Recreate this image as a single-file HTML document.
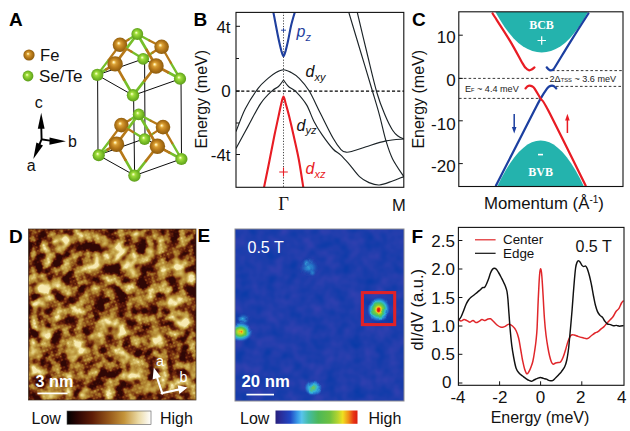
<!DOCTYPE html>
<html lang="en">
<head>
<meta charset="utf-8">
<title>FeSe/Te figure</title>
<style>
  html, body { margin: 0; padding: 0; background: #ffffff; }
  body { width: 630px; height: 431px; overflow: hidden; }
  svg { display: block; }
  text { font-family: "Liberation Sans", sans-serif; fill: #111; }
  .lbl { font-weight: bold; font-size: 19px; fill: #000; }
  .tk { font-size: 17px; }
  .ax { font-size: 16px; }
  .it { font-style: italic; }
  .serif { font-family: "Liberation Serif", serif; }
</style>
</head>
<body>
<svg width="630" height="431" viewBox="0 0 630 431">
  <defs>
    <radialGradient id="gFe" cx="0.5" cy="0.5" r="0.56" fx="0.40" fy="0.38">
      <stop offset="0" stop-color="#fffbe8"/>
      <stop offset="0.07" stop-color="#ffeeb0"/>
      <stop offset="0.15" stop-color="#f2cc6c"/>
      <stop offset="0.26" stop-color="#d89e34"/>
      <stop offset="0.55" stop-color="#b87a1a"/>
      <stop offset="0.85" stop-color="#94600e"/>
      <stop offset="1" stop-color="#7a4c0a"/>
    </radialGradient>
    <radialGradient id="gSe" cx="0.5" cy="0.5" r="0.56" fx="0.40" fy="0.38">
      <stop offset="0" stop-color="#fcfff0"/>
      <stop offset="0.07" stop-color="#ecffb4"/>
      <stop offset="0.15" stop-color="#ccf078"/>
      <stop offset="0.28" stop-color="#a0dc3c"/>
      <stop offset="0.58" stop-color="#7cc028"/>
      <stop offset="0.85" stop-color="#62a41c"/>
      <stop offset="1" stop-color="#4e8a14"/>
    </radialGradient>
    <filter id="blurD" x="-5%" y="-5%" width="110%" height="110%"><feGaussianBlur stdDeviation="2.4"/></filter>
    <filter id="stm" x="0" y="0" width="100%" height="100%" filterUnits="objectBoundingBox" color-interpolation-filters="sRGB">
      <feTurbulence type="fractalNoise" baseFrequency="0.095 0.095" numOctaves="2" seed="4" result="noise"/>
      <feColorMatrix in="noise" type="matrix" values="1 0 0 0 0  1 0 0 0 0  1 0 0 0 0  0 0 0 0 1" result="ng"/>
      <feComposite in="SourceGraphic" in2="ng" operator="arithmetic" k1="0" k2="0.9" k3="1.9" k4="-0.985" result="mix"/>
      <feComponentTransfer in="mix">
        <feFuncR type="table" tableValues="0.19 0.31 0.47 0.61 0.71 0.78 0.87 0.97"/>
        <feFuncG type="table" tableValues="0.03 0.07 0.19 0.40 0.545 0.655 0.78 0.92"/>
        <feFuncB type="table" tableValues="0.02 0.03 0.06 0.13 0.21 0.30 0.46 0.70"/>
      </feComponentTransfer>
    </filter>
    <pattern id="lat" width="3.6" height="3.6" patternUnits="userSpaceOnUse" patternTransform="rotate(-18)">
      <circle cx="1.7" cy="1.7" r="1.0" fill="#ffffff" fill-opacity="0.22"/>
    </pattern>
    <linearGradient id="cbD" x1="0" y1="0" x2="1" y2="0">
      <stop offset="0" stop-color="#000000"/>
      <stop offset="0.12" stop-color="#2a0503"/>
      <stop offset="0.3" stop-color="#5e1c06"/>
      <stop offset="0.5" stop-color="#96581a"/>
      <stop offset="0.68" stop-color="#c4943a"/>
      <stop offset="0.85" stop-color="#ead9a4"/>
      <stop offset="1" stop-color="#ffffff"/>
    </linearGradient>
    <clipPath id="clipD"><rect x="28.5" y="229" width="167.5" height="171"/></clipPath>
    <radialGradient id="vHot">
      <stop offset="0" stop-color="#d81410"/>
      <stop offset="0.10" stop-color="#e62c10"/>
      <stop offset="0.20" stop-color="#f2d420"/>
      <stop offset="0.34" stop-color="#7ccc38"/>
      <stop offset="0.50" stop-color="#40c070"/>
      <stop offset="0.64" stop-color="#30b8d8"/>
      <stop offset="0.80" stop-color="#2474d0" stop-opacity="0.85"/>
      <stop offset="1" stop-color="#1e3ca6" stop-opacity="0"/>
    </radialGradient>
    <radialGradient id="vWarm">
      <stop offset="0" stop-color="#e85a14"/>
      <stop offset="0.10" stop-color="#f0c81c"/>
      <stop offset="0.24" stop-color="#a8d630"/>
      <stop offset="0.40" stop-color="#58c448"/>
      <stop offset="0.56" stop-color="#34bcc0"/>
      <stop offset="0.72" stop-color="#2c90dc" stop-opacity="0.9"/>
      <stop offset="1" stop-color="#1e3ca6" stop-opacity="0"/>
    </radialGradient>
    <radialGradient id="vMid">
      <stop offset="0" stop-color="#74c450"/>
      <stop offset="0.22" stop-color="#50c08c"/>
      <stop offset="0.45" stop-color="#34b4dc"/>
      <stop offset="0.72" stop-color="#2880d4" stop-opacity="0.8"/>
      <stop offset="1" stop-color="#1e3ca6" stop-opacity="0"/>
    </radialGradient>
    <radialGradient id="vCold">
      <stop offset="0" stop-color="#3cc0e4" stop-opacity="0.95"/>
      <stop offset="0.4" stop-color="#2c94d8" stop-opacity="0.75"/>
      <stop offset="1" stop-color="#1e3ca6" stop-opacity="0"/>
    </radialGradient>
    <filter id="wob" x="-20%" y="-20%" width="140%" height="140%">
      <feTurbulence type="fractalNoise" baseFrequency="0.13" numOctaves="1" seed="8" result="t"/>
      <feDisplacementMap in="SourceGraphic" in2="t" scale="3.5" xChannelSelector="R" yChannelSelector="G"/>
    </filter>
    <linearGradient id="cbE" x1="0" y1="0" x2="1" y2="0">
      <stop offset="0" stop-color="#26207c"/>
      <stop offset="0.06" stop-color="#2a2c98"/>
      <stop offset="0.18" stop-color="#2048c4"/>
      <stop offset="0.27" stop-color="#3a9ce8"/>
      <stop offset="0.32" stop-color="#58c4ec"/>
      <stop offset="0.40" stop-color="#44bca8"/>
      <stop offset="0.52" stop-color="#4cb858"/>
      <stop offset="0.66" stop-color="#6cc040"/>
      <stop offset="0.76" stop-color="#b4d430"/>
      <stop offset="0.82" stop-color="#f0e020"/>
      <stop offset="0.89" stop-color="#f09018"/>
      <stop offset="0.95" stop-color="#e83814"/>
      <stop offset="1" stop-color="#d81c10"/>
    </linearGradient>
    <filter id="eNoise" x="0" y="0" width="100%" height="100%" color-interpolation-filters="sRGB">
      <feTurbulence type="fractalNoise" baseFrequency="0.08" numOctaves="2" seed="5" result="n"/>
      <feColorMatrix in="n" type="matrix" values="0.22 0 0 0 0.01  0.03 0 0 0 0.225  0.04 0 0 0 0.655  0 0 0 0 1"/>
    </filter>
    <clipPath id="clipE"><rect x="235" y="229" width="169" height="172"/></clipPath>
    <clipPath id="clipB"><rect x="236" y="12.5" width="168" height="174.5"/></clipPath>
    <clipPath id="clipC"><rect x="459" y="12" width="164" height="174.5"/></clipPath>
    <clipPath id="clipF"><rect x="458.4" y="227.4" width="165.6" height="157.9"/></clipPath>
  </defs>

  <rect x="0" y="0" width="630" height="431" fill="#ffffff"/>

  <!-- ================= PANEL A ================= -->
  <g id="panelA">
    <text class="lbl" x="9" y="26">A</text>
    <circle cx="29" cy="55" r="5.6" fill="url(#gFe)"/>
    <text class="ax" x="40" y="61" style="font-size:16.6px">Fe</text>
    <circle cx="28" cy="76" r="5.4" fill="url(#gSe)"/>
    <text class="ax" x="39" y="82.2" style="font-size:17px">Se/Te</text>

    <!-- axes triad -->
    <g fill="#000" stroke="none">
      <text class="ax" x="34.8" y="108">c</text>
      <text class="ax" x="26.8" y="170.6">a</text>
      <text class="ax" x="68" y="147.4">b</text>
      <path d="M41.2 112.8 L37.8 128.8 L44.6 128.8 Z"/>
      <path d="M65.9 141.2 L49.6 137.4 L49.4 144.8 Z"/>
      <path d="M33.3 159 L36.4 142.4 L43 145.4 Z"/>
      <path d="M41.3 128 L41.6 139.6 M40.9 139.2 L50 140.6 M41.9 138.6 L39.4 144.6" stroke="#000" stroke-width="1.9" fill="none"/>
    </g>

    <!-- unit cell lines -->
    <g stroke="#0c0c0c" stroke-width="1" fill="none">
      <path d="M97.3 75 L143.5 58.8 L180.5 78.7 L133.2 95.4 Z"/>
      <path d="M98.3 155.1 L145 138.5 L181.5 158.9 L134.8 175.5 Z"/>
      <path d="M97.6 75 L98 155"/>
      <path d="M133.6 95.4 L134.6 175.5"/>
      <path d="M144.6 58.8 L145 138.5"/>
      <path d="M181 78.7 L181.5 158.9"/>
    </g>
    <g id="layer" stroke-linecap="round">
      <path d="M143.2 58.8 L131.6 51.8" stroke="#76be2a" stroke-width="2.3"/><path d="M131.6 51.8 L120.0 44.8" stroke="#b67818" stroke-width="2.3"/>
      <path d="M143.2 58.8 L152.4 52.8" stroke="#76be2a" stroke-width="2.3"/><path d="M152.4 52.8 L161.6 46.8" stroke="#b67818" stroke-width="2.3"/>
      <path d="M137.3 34.0 L128.7 39.4" stroke="#76be2a" stroke-width="2.3"/><path d="M128.7 39.4 L120.0 44.8" stroke="#b67818" stroke-width="2.3"/>
      <path d="M137.3 34.0 L149.4 40.4" stroke="#76be2a" stroke-width="2.3"/><path d="M149.4 40.4 L161.6 46.8" stroke="#b67818" stroke-width="2.3"/>
      <path d="M97.3 74.9 L108.7 59.9" stroke="#76be2a" stroke-width="2.3"/><path d="M108.7 59.9 L120.0 44.8" stroke="#b67818" stroke-width="2.3"/>
      <path d="M180.0 78.7 L170.8 62.8" stroke="#76be2a" stroke-width="2.3"/><path d="M170.8 62.8 L161.6 46.8" stroke="#b67818" stroke-width="2.3"/>
      <circle cx="143.2" cy="58.8" r="5.9" fill="url(#gSe)"/>
      <circle cx="120.0" cy="44.8" r="7.3" fill="url(#gFe)"/>
      <circle cx="161.6" cy="46.8" r="7.3" fill="url(#gFe)"/>
      <path d="M137.3 34.0 L126.2 49.0" stroke="#76be2a" stroke-width="2.7"/><path d="M126.2 49.0 L115.1 63.9" stroke="#b67818" stroke-width="2.7"/>
      <path d="M137.3 34.0 L146.7 50.0" stroke="#76be2a" stroke-width="2.7"/><path d="M146.7 50.0 L156.0 66.0" stroke="#b67818" stroke-width="2.7"/>
      <path d="M97.3 74.9 L106.2 69.4" stroke="#76be2a" stroke-width="2.7"/><path d="M106.2 69.4 L115.1 63.9" stroke="#b67818" stroke-width="2.7"/>
      <path d="M180.0 78.7 L168.0 72.3" stroke="#76be2a" stroke-width="2.7"/><path d="M168.0 72.3 L156.0 66.0" stroke="#b67818" stroke-width="2.7"/>
      <path d="M133.0 95.3 L124.0 79.6" stroke="#76be2a" stroke-width="2.7"/><path d="M124.0 79.6 L115.1 63.9" stroke="#b67818" stroke-width="2.7"/>
      <path d="M133.0 95.3 L144.5 80.7" stroke="#76be2a" stroke-width="2.7"/><path d="M144.5 80.7 L156.0 66.0" stroke="#b67818" stroke-width="2.7"/>
      <circle cx="137.3" cy="34.0" r="5.9" fill="url(#gSe)"/>
      <circle cx="97.3" cy="74.9" r="6.1" fill="url(#gSe)"/>
      <circle cx="180.0" cy="78.7" r="6.1" fill="url(#gSe)"/>
      <circle cx="115.1" cy="63.9" r="7.7" fill="url(#gFe)"/>
      <circle cx="156.0" cy="66.0" r="7.7" fill="url(#gFe)"/>
      <circle cx="133.0" cy="95.3" r="6.2" fill="url(#gSe)"/>
    </g>
    <use href="#layer" transform="translate(1.4 80.3)"/>
  </g>

  <!-- ================= PANEL B ================= -->
  <g id="panelB">
    <text class="lbl" x="193.5" y="26">B</text>
    <text class="ax" transform="translate(207 148.6) rotate(-90)">Energy (meV)</text>
    <text class="tk" x="230.6" y="32.6" text-anchor="end">4t</text>
    <text class="tk" x="230.6" y="97.4" text-anchor="end">0</text>
    <text class="tk" x="230.6" y="160.8" text-anchor="end">-4t</text>
    <text class="ax serif" x="283.5" y="210.2" text-anchor="middle" style="font-size:18.5px">Γ</text>
    <text class="ax" x="398.8" y="210.6" text-anchor="middle" style="font-size:16.5px">M</text>
    <g clip-path="url(#clipB)" fill="none">
      <path d="M236 91.2 H404" stroke="#000" stroke-width="1.3" stroke-dasharray="3.1 2.1"/>
      <path d="M283.5 12 V187" stroke="#333" stroke-width="0.9" stroke-dasharray="1.2 1.6"/>
      <g stroke="#1c2428" stroke-width="1.15" fill="none">
        <path d="M236.0 131.5 C237.6 127.7 241.6 115.9 245.3 108.7 C249.0 101.5 254.3 93.4 258.1 88.3 C261.9 83.2 265.3 80.8 268.3 78.1 C271.3 75.4 273.5 73.8 276.0 72.4 C278.5 71.0 281.0 69.7 283.5 69.7 C286.0 69.7 288.4 71.0 291.0 72.4 C293.6 73.8 295.9 75.0 298.9 78.1 C301.9 81.2 305.5 84.9 309.1 90.8 C312.7 96.7 316.5 105.6 320.5 113.5 C324.5 121.4 329.6 132.0 333.0 138.0 C336.4 144.0 338.8 147.2 341.0 149.6 C343.2 152.0 344.5 152.0 346.5 152.2 C348.5 152.4 349.7 151.9 353.0 151.0 C356.3 150.1 360.6 148.5 366.1 146.8 C371.6 145.1 379.7 142.2 386.0 140.9 C392.3 139.6 400.8 139.3 403.8 139.0"/>
        <path d="M236.0 148.5 C238.0 144.8 243.8 134.1 247.9 126.6 C252.0 119.1 256.6 109.6 260.6 103.6 C264.6 97.6 269.1 93.6 272.1 90.8 C275.1 88.0 276.6 88.3 278.5 86.5 C280.4 84.7 282.7 81.1 283.5 80.0"/>
        <path d="M283.5 80.0 C284.3 81.1 286.4 84.5 288.5 86.5 C290.6 88.5 293.4 89.0 296.4 92.1 C299.4 95.2 303.7 100.0 306.6 104.9 C309.5 109.8 311.4 116.5 314.0 121.5 C316.6 126.5 318.8 130.1 322.0 134.7 C325.2 139.3 329.9 145.7 333.0 149.0 C336.1 152.3 337.9 152.4 340.5 154.8 C343.1 157.2 345.3 159.7 348.5 163.3 C351.7 166.9 356.1 173.4 359.5 176.6 C362.9 179.8 365.7 181.2 369.0 182.6 C372.3 184.0 375.5 185.3 379.4 185.0 C383.3 184.7 388.5 182.4 392.6 181.0 C396.7 179.6 401.9 177.3 403.8 176.6"/>
        <path d="M348.7 12.0 C350.8 18.8 356.9 39.5 361.0 53.0 C365.1 66.5 369.9 82.7 373.0 93.0 C376.1 103.3 377.2 106.8 379.4 114.8 C381.6 122.8 383.8 133.6 386.0 140.9 C388.2 148.2 389.6 153.0 392.6 158.9 C395.6 164.8 401.9 173.7 403.8 176.6"/>
        <path d="M357.2 12.0 C358.8 18.8 363.7 39.5 367.0 53.0 C370.3 66.5 374.0 82.7 377.0 93.0 C380.0 103.3 382.3 108.6 384.9 114.8 C387.5 121.0 390.4 126.8 392.6 130.3 C394.8 133.8 396.1 134.6 398.0 136.0 C399.9 137.4 402.8 138.5 403.8 139.0"/>
      </g>
      <path d="M273.3 12.0 C273.8 14.3 275.1 21.2 276.0 26.0 C276.9 30.8 278.1 36.9 279.0 41.0 C279.9 45.1 280.6 48.1 281.3 50.6 C282.1 53.1 282.8 56.2 283.5 56.2 C284.2 56.2 284.9 53.1 285.7 50.6 C286.4 48.1 287.1 45.1 288.0 41.0 C288.9 36.9 289.9 30.8 291.0 26.0 C292.1 21.2 294.2 14.3 294.9 12.0" stroke="#1f3f9e" stroke-width="2.1" stroke-linejoin="round"/>
      <path d="M264.0 187.5 C264.9 182.9 267.9 168.8 269.6 160.0 C271.4 151.2 273.0 142.3 274.5 135.0 C276.0 127.7 277.4 121.7 278.5 116.4 C279.6 111.2 280.5 106.8 281.3 103.5 C282.1 100.2 282.8 96.5 283.5 96.5 C284.2 96.5 284.8 100.2 285.7 103.5 C286.6 106.8 287.9 111.2 289.2 116.4 C290.5 121.7 291.9 127.7 293.5 135.0 C295.1 142.3 297.3 151.2 298.9 160.0 C300.5 168.8 302.6 182.9 303.3 187.5" stroke="#e81c24" stroke-width="2.1" stroke-linejoin="round"/>
      <path d="M281 30.2 H286 M283.5 28.2 V32.2" stroke="#1f3f9e" stroke-width="0.9"/>
      <path d="M279.2 172 H287.8 M283.5 167.6 V176.4" stroke="#e81c24" stroke-width="1.1"/>
    </g>
    <rect x="236" y="12.4" width="167.8" height="174.9" fill="none" stroke="#111" stroke-width="1.1"/>
    <path d="M236 26.3 h4 M236 58.5 h3 M236 91 h4 M236 123 h3 M236 154.5 h4" stroke="#111" stroke-width="1" fill="none"/>
    <text class="ax it" x="296.5" y="37" style="fill:#1f3f9e">p<tspan dy="3.5" font-size="11">z</tspan></text>
    <text class="ax it" x="305.5" y="77">d<tspan dy="3.5" font-size="11">xy</tspan></text>
    <text class="ax it" x="296.5" y="130.8">d<tspan dy="3.5" font-size="11">yz</tspan></text>
    <text class="ax it" x="305.5" y="174" style="fill:#e81c24">d<tspan dy="3.5" font-size="11">xz</tspan></text>
  </g>

  <!-- ================= PANEL C ================= -->
  <g id="panelC">
    <text class="lbl" x="412" y="26.2">C</text>
    <text class="ax" transform="translate(423.6 148.6) rotate(-90)">Energy (meV)</text>
    <text class="tk" x="455.6" y="43.4" text-anchor="end">10</text>
    <text class="tk" x="455.6" y="86.3" text-anchor="end">0</text>
    <text class="tk" x="455.6" y="129.8" text-anchor="end">-10</text>
    <text class="tk" x="455.6" y="172.4" text-anchor="end">-20</text>
    <text class="ax" x="484" y="209" style="font-size:16.8px">Momentum (Å<tspan dy="-6" font-size="10">-1</tspan><tspan dy="6">)</tspan></text>
    <g clip-path="url(#clipC)" fill="none">
      <path d="M495.1 11.5 L499.8 19.6 L504.4 26.8 L509.1 33.1 L513.7 38.4 L518.4 42.9 L523.1 46.4 L527.7 49.1 L532.4 51.0 L537.0 52.1 L541.7 52.4 L546.4 52.1 L551.0 51.0 L555.7 49.1 L560.3 46.4 L565.0 42.9 L569.7 38.4 L574.3 33.1 L579.0 26.8 L583.6 19.6 L588.3 11.5 Z" fill="#24b3ad"/>
      <path d="M497.0 187.0 L501.4 178.1 L505.7 170.2 L510.1 163.2 L514.4 157.2 L518.8 152.1 L523.2 147.9 L527.5 144.6 L531.9 142.3 L536.2 140.9 L540.6 140.4 L545.0 140.9 L549.3 142.3 L553.7 144.6 L558.0 147.9 L562.4 152.1 L566.8 157.2 L571.1 163.2 L575.5 170.2 L579.8 178.1 L584.2 187.0 Z" fill="#24b3ad"/>
      <path d="M459 78.4 H549" stroke="#222" stroke-width="0.9" stroke-dasharray="2.6 2.2"/>
      <path d="M552 70.6 H623" stroke="#222" stroke-width="0.9" stroke-dasharray="2.6 2.2"/>
      <path d="M556 86.4 H623" stroke="#222" stroke-width="0.9" stroke-dasharray="2.6 2.2"/>
      <path d="M459 98.4 H539" stroke="#222" stroke-width="0.9" stroke-dasharray="2.6 2.2"/>
      <g stroke-width="2.25" stroke-linecap="round" stroke-linejoin="round">
        <path d="M556.2 88.4 C555.9 88.1 554.9 86.9 554.2 86.4 C553.5 85.9 552.8 85.6 552.0 85.6 C551.2 85.6 550.4 85.7 549.6 86.2 C548.8 86.7 548.5 86.5 547.0 88.6 C545.5 90.7 542.7 94.9 540.6 98.6 C538.5 102.3 541.7 96.1 534.3 110.6 C526.9 125.1 502.4 173.0 496.0 185.5" stroke="#1c3fa0"/>
        <path d="M525.6 88.4 C525.9 88.1 526.7 86.9 527.4 86.4 C528.1 85.9 528.8 85.6 529.6 85.6 C530.4 85.6 531.2 85.7 532.0 86.2 C532.8 86.7 533.2 86.5 534.6 88.6 C536.0 90.7 538.3 94.9 540.6 98.6 C542.9 102.3 540.8 96.1 548.3 110.6 C555.8 125.1 579.4 173.0 585.6 185.5" stroke="#e81c24"/>
        <path d="M492.6 13.5 C495.5 18.1 505.0 32.5 510.0 40.8 C515.0 49.1 520.0 58.9 522.6 63.4 C525.2 67.9 524.6 66.7 525.6 67.8 C526.6 68.9 527.8 69.9 528.8 70.2 C529.8 70.5 530.7 70.1 531.6 69.6 C532.5 69.1 533.9 67.8 534.4 67.4" stroke="#e81c24"/>
        <path d="M588.4 13.5 C585.5 18.1 576.6 31.9 571.0 40.8 C565.4 49.7 558.0 62.2 555.0 67.0 C552.0 71.8 553.5 69.0 552.8 69.6 C552.1 70.2 551.3 70.4 550.6 70.4 C549.9 70.4 549.2 69.9 548.6 69.4 C548.0 68.9 547.1 67.7 546.8 67.4" stroke="#1c3fa0"/>
      </g>
      <path d="M514.2 114 V128.5" stroke="#1c3fa0" stroke-width="1.5"/>
      <path d="M511.9 127 L514.2 133.6 L516.5 127 Z" fill="#1c3fa0"/>
      <path d="M567.4 133 V119" stroke="#e81c24" stroke-width="1.5"/>
      <path d="M565.1 120.5 L567.4 113.8 L569.7 120.5 Z" fill="#e81c24"/>
    </g>
    <text class="serif" x="541.5" y="29" text-anchor="middle" style="font-size:12px;font-weight:bold;fill:#fff">BCB</text>
    <path d="M537.5 40.5 H546 M541.7 36.2 V44.8" stroke="#fff" stroke-width="1.2" fill="none"/>
    <path d="M538 154.6 H543" stroke="#fff" stroke-width="1.6" fill="none"/>
    <text class="serif" x="540.6" y="176" text-anchor="middle" style="font-size:12px;font-weight:bold;fill:#fff">BVB</text>
    <text x="465" y="92" style="font-size:9.1px;fill:#222">E<tspan font-size="5.6">F</tspan> ~ 4.4 meV</text>
    <text x="549.5" y="82" style="font-size:9.1px;fill:#222">2Δ<tspan font-size="5.8">TSS</tspan> ~ 3.6 meV</text>
    <rect x="458.8" y="11.8" width="164.2" height="174.7" fill="none" stroke="#111" stroke-width="1.1"/>
    <path d="M458.8 35.2 h4 M458.8 78.4 h4 M458.8 120.8 h4 M458.8 163.6 h4" stroke="#111" stroke-width="1" fill="none"/>
  </g>
  <!-- ================= PANEL D ================= -->
  <g id="panelD">
    <text class="lbl" x="9" y="243">D</text>
    <g clip-path="url(#clipD)">
      <g filter="url(#stm)">
      <g filter="url(#blurD)">
        <rect x="28.5" y="229" width="167.5" height="171" fill="#808080"/>
        <ellipse cx="62.9" cy="242" rx="9" ry="7" fill="#f0f0f0" transform="rotate(-30 62.9 242)"/><ellipse cx="41" cy="287" rx="8" ry="6" fill="#f0f0f0" transform="rotate(-30 41 287)"/><ellipse cx="40" cy="304.8" rx="7" ry="6" fill="#f0f0f0" transform="rotate(-30 40 304.8)"/><ellipse cx="106.8" cy="245" rx="6" ry="6" fill="#f0f0f0" transform="rotate(-30 106.8 245)"/><ellipse cx="56" cy="281" rx="6" ry="5" fill="#f0f0f0" transform="rotate(-30 56 281)"/><ellipse cx="97.9" cy="263" rx="6" ry="6" fill="#f0f0f0" transform="rotate(-30 97.9 263)"/><ellipse cx="120" cy="255" rx="7" ry="6" fill="#f0f0f0" transform="rotate(-30 120 255)"/><ellipse cx="128" cy="262" rx="7" ry="5" fill="#f0f0f0" transform="rotate(-30 128 262)"/><ellipse cx="134" cy="269" rx="6" ry="5" fill="#f0f0f0" transform="rotate(-30 134 269)"/><ellipse cx="174.9" cy="262" rx="8" ry="7" fill="#f0f0f0" transform="rotate(-30 174.9 262)"/><ellipse cx="181.9" cy="275" rx="7" ry="6" fill="#f0f0f0" transform="rotate(-30 181.9 275)"/><ellipse cx="171.9" cy="301" rx="8" ry="7" fill="#f0f0f0" transform="rotate(-30 171.9 301)"/><ellipse cx="152" cy="251" rx="6" ry="5" fill="#f0f0f0" transform="rotate(-30 152 251)"/><ellipse cx="138" cy="235" rx="5" ry="5" fill="#f0f0f0" transform="rotate(-30 138 235)"/><ellipse cx="75.9" cy="353" rx="9" ry="7" fill="#f0f0f0" transform="rotate(-30 75.9 353)"/><ellipse cx="45" cy="333" rx="6" ry="6" fill="#f0f0f0" transform="rotate(-30 45 333)"/><ellipse cx="32" cy="351" rx="5" ry="7" fill="#f0f0f0" transform="rotate(-30 32 351)"/><ellipse cx="93.9" cy="341" rx="6" ry="6" fill="#f0f0f0" transform="rotate(-30 93.9 341)"/><ellipse cx="32" cy="369" rx="5" ry="6" fill="#f0f0f0" transform="rotate(-30 32 369)"/><ellipse cx="107.8" cy="327" rx="6" ry="6" fill="#f0f0f0" transform="rotate(-30 107.8 327)"/><ellipse cx="83.9" cy="395" rx="6" ry="5" fill="#f0f0f0" transform="rotate(-30 83.9 395)"/><ellipse cx="54" cy="395" rx="6" ry="5" fill="#f0f0f0" transform="rotate(-30 54 395)"/><ellipse cx="181.9" cy="321" rx="7" ry="6" fill="#f0f0f0" transform="rotate(-30 181.9 321)"/><ellipse cx="116" cy="329" rx="6" ry="6" fill="#f0f0f0" transform="rotate(-30 116 329)"/><ellipse cx="157.9" cy="337" rx="6" ry="6" fill="#f0f0f0" transform="rotate(-30 157.9 337)"/><ellipse cx="124" cy="357" rx="6" ry="6" fill="#f0f0f0" transform="rotate(-30 124 357)"/><ellipse cx="132" cy="375" rx="7" ry="6" fill="#f0f0f0" transform="rotate(-30 132 375)"/><ellipse cx="150" cy="389" rx="6" ry="5" fill="#f0f0f0" transform="rotate(-30 150 389)"/><ellipse cx="192" cy="371" rx="5" ry="6" fill="#f0f0f0" transform="rotate(-30 192 371)"/><ellipse cx="36" cy="245" rx="6" ry="7" fill="#0c0c0c" transform="rotate(-30 36 245)"/><ellipse cx="42" cy="235" rx="6" ry="5" fill="#0c0c0c" transform="rotate(-30 42 235)"/><ellipse cx="89" cy="247" rx="9" ry="7" fill="#0c0c0c" transform="rotate(-30 89 247)"/><ellipse cx="58" cy="263" rx="6" ry="6" fill="#0c0c0c" transform="rotate(-30 58 263)"/><ellipse cx="40" cy="267" rx="6" ry="6" fill="#0c0c0c" transform="rotate(-30 40 267)"/><ellipse cx="74.5" cy="279" rx="6" ry="11" fill="#0c0c0c" transform="rotate(-30 74.5 279)"/><ellipse cx="54" cy="275" rx="5" ry="5" fill="#0c0c0c" transform="rotate(-30 54 275)"/><ellipse cx="105.8" cy="271" rx="6" ry="6" fill="#0c0c0c" transform="rotate(-30 105.8 271)"/><ellipse cx="58" cy="301" rx="6" ry="6" fill="#0c0c0c" transform="rotate(-30 58 301)"/><ellipse cx="36" cy="297" rx="5" ry="5" fill="#0c0c0c" transform="rotate(-30 36 297)"/><ellipse cx="93.9" cy="309" rx="6" ry="6" fill="#0c0c0c" transform="rotate(-30 93.9 309)"/><ellipse cx="107.8" cy="299" rx="6" ry="6" fill="#0c0c0c" transform="rotate(-30 107.8 299)"/><ellipse cx="128" cy="239" rx="6" ry="6" fill="#0c0c0c" transform="rotate(-30 128 239)"/><ellipse cx="140" cy="247" rx="6" ry="6" fill="#0c0c0c" transform="rotate(-30 140 247)"/><ellipse cx="116" cy="235" rx="5" ry="5" fill="#0c0c0c" transform="rotate(-30 116 235)"/><ellipse cx="163.9" cy="257" rx="6" ry="9" fill="#0c0c0c" transform="rotate(-30 163.9 257)"/><ellipse cx="143.9" cy="281" rx="10" ry="9" fill="#0c0c0c" transform="rotate(-30 143.9 281)"/><ellipse cx="177.9" cy="237" rx="7" ry="6" fill="#0c0c0c" transform="rotate(-30 177.9 237)"/><ellipse cx="191.8" cy="251" rx="5" ry="7" fill="#0c0c0c" transform="rotate(-30 191.8 251)"/><ellipse cx="122" cy="299" rx="9" ry="9" fill="#0c0c0c" transform="rotate(-30 122 299)"/><ellipse cx="118" cy="273" rx="6" ry="6" fill="#0c0c0c" transform="rotate(-30 118 273)"/><ellipse cx="177.9" cy="287" rx="7" ry="6" fill="#0c0c0c" transform="rotate(-30 177.9 287)"/><ellipse cx="157.9" cy="295" rx="6" ry="6" fill="#0c0c0c" transform="rotate(-30 157.9 295)"/><ellipse cx="189.8" cy="295" rx="6" ry="6" fill="#0c0c0c" transform="rotate(-30 189.8 295)"/><ellipse cx="56" cy="333" rx="6" ry="6" fill="#0c0c0c" transform="rotate(-30 56 333)"/><ellipse cx="34" cy="335" rx="5" ry="5" fill="#0c0c0c" transform="rotate(-30 34 335)"/><ellipse cx="40" cy="321" rx="6" ry="5" fill="#0c0c0c" transform="rotate(-30 40 321)"/><ellipse cx="48" cy="353" rx="6" ry="6" fill="#0c0c0c" transform="rotate(-30 48 353)"/><ellipse cx="62" cy="357" rx="6" ry="6" fill="#0c0c0c" transform="rotate(-30 62 357)"/><ellipse cx="62" cy="371" rx="6" ry="6" fill="#0c0c0c" transform="rotate(-30 62 371)"/><ellipse cx="87.9" cy="361" rx="7" ry="7" fill="#0c0c0c" transform="rotate(-30 87.9 361)"/><ellipse cx="103.8" cy="351" rx="6" ry="6" fill="#0c0c0c" transform="rotate(-30 103.8 351)"/><ellipse cx="105.8" cy="373" rx="6" ry="6" fill="#0c0c0c" transform="rotate(-30 105.8 373)"/><ellipse cx="93.9" cy="321" rx="6" ry="5" fill="#0c0c0c" transform="rotate(-30 93.9 321)"/><ellipse cx="73.9" cy="329" rx="6" ry="6" fill="#0c0c0c" transform="rotate(-30 73.9 329)"/><ellipse cx="95.9" cy="387" rx="6" ry="6" fill="#0c0c0c" transform="rotate(-30 95.9 387)"/><ellipse cx="40" cy="381" rx="7" ry="6" fill="#0c0c0c" transform="rotate(-30 40 381)"/><ellipse cx="143.9" cy="325" rx="8" ry="7" fill="#0c0c0c" transform="rotate(-30 143.9 325)"/><ellipse cx="126" cy="345" rx="7" ry="7" fill="#0c0c0c" transform="rotate(-30 126 345)"/><ellipse cx="143.9" cy="355" rx="7" ry="7" fill="#0c0c0c" transform="rotate(-30 143.9 355)"/><ellipse cx="169.9" cy="341" rx="7" ry="7" fill="#0c0c0c" transform="rotate(-30 169.9 341)"/><ellipse cx="189.8" cy="355" rx="6" ry="8" fill="#0c0c0c" transform="rotate(-30 189.8 355)"/><ellipse cx="118" cy="393" rx="7" ry="6" fill="#0c0c0c" transform="rotate(-30 118 393)"/><ellipse cx="163.9" cy="325" rx="6" ry="6" fill="#0c0c0c" transform="rotate(-30 163.9 325)"/><ellipse cx="120" cy="367" rx="6" ry="5" fill="#0c0c0c" transform="rotate(-30 120 367)"/><ellipse cx="172" cy="362" rx="5" ry="5" fill="#0c0c0c" transform="rotate(-30 172 362)"/>
      </g>
      <rect x="28.5" y="229" width="167.5" height="171" fill="url(#lat)"/>
      </g>
      
    </g>
    <rect x="28.5" y="229" width="167.5" height="171" fill="none" stroke="#3a2a1a" stroke-width="0.7"/>
    <text x="35.6" y="387" style="font-size:16.2px;font-weight:bold;fill:#fff">3 nm</text>
    <path d="M37.4 393.4 H67.6" stroke="#fff" stroke-width="1.7" fill="none"/>
    <g fill="#fff" stroke="none">
      <path d="M162.4 393.6 L156 374.5 M161.6 393.2 L180.5 389.1" stroke="#fff" stroke-width="2.1" fill="none" stroke-linecap="round"/>
      <path d="M153.8 367.4 L160.8 377 L152.6 379.6 Z"/>
      <path d="M187.6 387.4 L179.4 393.9 L177.6 385.3 Z"/>
      <text x="156" y="365.5" style="font-size:14.5px;fill:#fff">a</text>
      <text x="179.5" y="381.5" style="font-size:14.5px;fill:#fff">b</text>
    </g>
    <text class="ax" x="31.5" y="423.5">Low</text>
    <rect x="67" y="411" width="84" height="13.3" fill="url(#cbD)" stroke="#555" stroke-width="0.6"/>
    <text class="ax" x="160" y="423.5">High</text>
  </g>
  <!-- ================= PANEL E ================= -->
  <g id="panelE">
    <text class="lbl" x="197.6" y="242.4">E</text>
    <g clip-path="url(#clipE)">
      <rect x="235" y="229" width="169" height="172" fill="#1e3ca6"/>
      <rect x="235" y="229" width="169" height="172" filter="url(#eNoise)"/>
      <g filter="url(#wob)">
        <ellipse cx="309" cy="267.6" rx="10.5" ry="9.5" fill="url(#vCold)" opacity="0.8"/>
        <circle cx="306.5" cy="262.5" r="4.5" fill="url(#vCold)" opacity="0.6"/>
        <circle cx="312.5" cy="273" r="4" fill="url(#vCold)" opacity="0.5"/>
        <circle cx="243.4" cy="319.5" r="6.5" fill="url(#vCold)" opacity="0.9"/>
        <ellipse cx="240.4" cy="331.8" rx="13" ry="10.5" fill="url(#vWarm)"/>
        <ellipse cx="313.2" cy="387.8" rx="9.5" ry="8.5" fill="url(#vMid)"/>
        <ellipse cx="378.6" cy="309.4" rx="12" ry="13" fill="url(#vHot)" transform="rotate(15 378.6 309.4)"/>
      </g>
    </g>
    <rect x="235" y="229" width="169" height="172" fill="none" stroke="#8a8a92" stroke-width="1"/>
    <rect x="362.4" y="292.6" width="32.3" height="32" fill="none" stroke="#e02228" stroke-width="3.1"/>
    <text x="247.5" y="252.5" style="font-size:16px;fill:#fff">0.5 T</text>
    <text x="241.5" y="386.5" style="font-size:16.7px;font-weight:bold;fill:#fff">20 nm</text>
    <path d="M246.4 394.6 H274" stroke="#fff" stroke-width="1.7" fill="none"/>
    <text class="ax" x="240" y="423.5">Low</text>
    <rect x="275.5" y="410.5" width="82" height="13.3" fill="url(#cbE)"/>
    <text class="ax" x="368.5" y="423.5">High</text>
  </g>
  <!-- ================= PANEL F ================= -->
  <g id="panelF">
    <text class="lbl" x="411.6" y="243.4">F</text>
    <text class="ax" transform="translate(422.6 350.6) rotate(-90)" style="font-size:16.5px">dI/dV (a.u.)</text>
    <text class="tk" x="455" y="246.5" text-anchor="end">2.5</text>
    <text class="tk" x="455" y="275" text-anchor="end">2.0</text>
    <text class="tk" x="455" y="303.5" text-anchor="end">1.5</text>
    <text class="tk" x="455" y="332" text-anchor="end">1.0</text>
    <text class="tk" x="455" y="360" text-anchor="end">0.5</text>
    <text class="tk" x="451.5" y="387.6" text-anchor="end">0</text>
    <text class="tk" x="458" y="402.8" text-anchor="middle">-4</text>
    <text class="tk" x="499.8" y="402.8" text-anchor="middle">-2</text>
    <text class="tk" x="540.4" y="402.8" text-anchor="middle">0</text>
    <text class="tk" x="580.8" y="402.8" text-anchor="middle">2</text>
    <text class="tk" x="621.8" y="402.8" text-anchor="middle">4</text>
    <text class="ax" x="540" y="423" text-anchor="middle">Energy (meV)</text>
    <g clip-path="url(#clipF)" fill="none" stroke-linejoin="round">
      <path d="M458.6 319.7 C459.0 319.9 460.1 321.0 461.0 321.0 C461.9 321.0 463.0 319.7 464.0 319.6 C465.0 319.5 466.0 320.2 467.0 320.6 C468.0 321.0 469.0 322.2 470.0 322.2 C471.0 322.2 472.0 320.3 473.0 320.4 C474.0 320.5 475.0 322.4 476.0 322.6 C477.0 322.8 478.0 321.9 479.0 321.4 C480.0 320.9 481.0 319.7 482.0 319.6 C483.0 319.5 484.0 320.7 485.0 320.6 C486.0 320.5 487.1 319.3 488.0 319.0 C488.9 318.7 489.7 318.5 490.5 318.8 C491.3 319.1 491.9 320.0 493.0 321.0 C494.1 322.0 495.6 323.9 497.0 325.0 C498.4 326.1 499.9 327.0 501.1 327.3 C502.4 327.6 503.2 327.1 504.5 326.6 C505.8 326.1 507.4 324.4 508.7 324.3 C510.0 324.2 511.3 325.0 512.5 326.0 C513.7 327.0 515.0 328.5 516.0 330.5 C517.0 332.5 517.8 334.9 518.6 338.0 C519.4 341.1 519.9 345.2 520.6 349.0 C521.3 352.8 521.9 357.2 522.6 360.5 C523.3 363.8 523.9 366.8 524.6 369.0 C525.3 371.2 526.1 373.4 526.8 373.8 C527.5 374.2 528.3 372.6 529.0 371.5 C529.7 370.4 530.4 368.7 531.0 367.0 C531.6 365.3 532.2 364.0 532.8 361.5 C533.4 359.0 534.0 355.4 534.5 352.0 C535.0 348.6 535.6 345.0 536.0 341.0 C536.4 337.0 536.8 334.0 537.1 328.0 C537.4 322.0 537.7 312.3 538.0 305.0 C538.3 297.7 538.7 289.4 539.0 284.0 C539.3 278.6 539.5 275.0 539.8 272.5 C540.1 270.0 540.3 268.8 540.6 268.8 C540.9 268.8 541.2 270.0 541.5 272.5 C541.8 275.0 542.1 279.2 542.4 284.0 C542.7 288.8 543.1 295.3 543.4 301.0 C543.7 306.7 544.0 312.3 544.4 318.0 C544.8 323.7 545.4 330.2 546.0 335.0 C546.6 339.8 547.2 343.5 547.8 347.0 C548.4 350.5 549.0 353.5 549.6 356.0 C550.2 358.5 550.8 360.6 551.4 362.0 C552.0 363.4 552.5 364.0 553.2 364.2 C553.9 364.4 554.7 363.3 555.5 363.0 C556.3 362.7 557.2 362.8 558.0 362.6 C558.8 362.4 559.7 362.9 560.5 362.0 C561.3 361.1 562.2 359.5 563.0 357.5 C563.8 355.5 564.7 352.7 565.5 350.0 C566.3 347.3 567.1 343.9 568.0 341.5 C568.9 339.1 569.8 336.5 570.8 335.4 C571.8 334.3 572.8 334.8 574.0 335.0 C575.2 335.2 576.5 335.9 578.0 336.4 C579.5 336.9 581.4 337.4 583.0 337.8 C584.6 338.2 586.2 338.9 587.5 338.6 C588.8 338.3 589.8 336.9 591.0 336.0 C592.2 335.1 593.8 333.7 595.0 333.0 C596.2 332.3 597.0 332.3 598.0 331.6 C599.0 330.9 600.1 329.7 601.1 328.9 C602.1 328.1 603.0 327.6 604.0 326.6 C605.0 325.6 606.0 324.1 607.0 323.0 C608.0 321.9 609.2 320.7 610.2 319.7 C611.2 318.7 612.0 318.2 613.0 316.8 C614.0 315.4 615.0 312.9 616.0 311.5 C617.0 310.1 618.1 309.8 619.0 308.4 C619.9 307.0 620.7 304.3 621.5 303.0 C622.3 301.7 623.2 300.9 623.6 300.5" stroke="#e0262a" stroke-width="1.5"/>
      <path d="M458.2 320.5 C458.7 319.9 460.1 318.6 461.0 317.0 C461.9 315.4 462.7 313.1 463.5 311.0 C464.3 308.9 465.2 306.3 466.0 304.5 C466.8 302.7 467.7 301.2 468.5 300.0 C469.3 298.8 470.1 298.0 471.0 297.2 C471.9 296.4 473.0 295.8 474.0 295.0 C475.0 294.2 476.0 293.4 477.0 292.6 C478.0 291.8 479.1 290.8 480.0 290.0 C480.9 289.2 481.8 288.0 482.5 287.6 C483.2 287.2 483.8 288.0 484.5 287.4 C485.2 286.8 485.8 285.4 486.5 284.0 C487.2 282.6 487.8 280.8 488.5 279.0 C489.2 277.2 489.8 274.6 490.5 273.0 C491.2 271.4 491.9 270.1 492.5 269.3 C493.1 268.5 493.8 268.2 494.4 268.2 C495.0 268.2 495.7 268.6 496.4 269.3 C497.1 270.0 497.7 271.2 498.5 272.5 C499.3 273.8 500.2 275.4 501.0 277.0 C501.8 278.6 502.8 280.4 503.5 282.0 C504.2 283.6 504.9 284.9 505.5 286.5 C506.1 288.1 506.6 289.2 507.0 291.5 C507.4 293.8 507.7 296.2 508.0 300.0 C508.3 303.8 508.6 309.0 509.0 314.0 C509.4 319.0 509.7 324.7 510.2 330.0 C510.7 335.3 511.2 340.9 511.8 345.6 C512.4 350.3 513.1 354.2 513.8 358.0 C514.5 361.8 515.3 366.0 516.2 368.5 C517.1 371.0 518.0 371.8 519.0 373.0 C520.0 374.2 521.3 375.1 522.5 376.0 C523.7 376.9 524.9 377.9 526.0 378.6 C527.1 379.3 528.1 380.0 529.0 380.4 C529.9 380.8 530.7 381.3 531.5 381.2 C532.3 381.1 533.1 380.4 534.0 380.0 C534.9 379.6 535.9 379.0 537.0 378.6 C538.1 378.2 539.3 377.4 540.4 377.4 C541.5 377.4 542.5 378.1 543.5 378.4 C544.5 378.7 545.5 378.8 546.5 379.2 C547.5 379.6 548.5 380.4 549.5 380.6 C550.5 380.8 551.5 381.0 552.5 380.6 C553.5 380.2 554.5 378.9 555.5 378.0 C556.5 377.1 557.5 376.1 558.5 375.0 C559.5 373.9 560.5 373.0 561.5 371.6 C562.5 370.2 563.8 368.7 564.7 366.8 C565.6 364.9 566.2 362.8 566.8 360.0 C567.4 357.2 567.9 353.7 568.4 350.0 C568.9 346.3 569.2 342.2 569.6 338.0 C570.0 333.8 570.4 329.5 570.8 325.0 C571.2 320.5 571.6 316.0 572.0 311.0 C572.4 306.0 572.8 300.2 573.2 295.0 C573.6 289.8 574.0 284.5 574.4 280.0 C574.8 275.5 575.2 270.9 575.6 268.0 C576.0 265.1 576.5 263.6 577.0 262.4 C577.5 261.2 578.0 260.8 578.5 260.8 C579.0 260.8 579.6 261.4 580.2 262.2 C580.8 263.0 581.4 264.7 582.0 265.4 C582.6 266.1 583.2 266.5 583.8 266.6 C584.4 266.7 585.0 265.6 585.6 266.0 C586.2 266.4 586.8 267.3 587.4 269.0 C588.0 270.7 588.8 273.3 589.5 276.0 C590.2 278.7 590.8 281.7 591.5 285.0 C592.2 288.3 592.8 292.6 593.5 296.0 C594.2 299.4 594.8 302.9 595.5 305.5 C596.2 308.1 596.8 310.0 597.5 311.6 C598.2 313.2 599.2 314.4 600.0 315.4 C600.8 316.4 601.7 316.4 602.5 317.4 C603.3 318.4 604.2 320.3 605.0 321.4 C605.8 322.5 606.6 323.5 607.5 324.0 C608.4 324.5 609.5 324.3 610.5 324.6 C611.5 324.9 612.5 325.7 613.5 325.8 C614.5 325.9 615.5 325.3 616.5 325.4 C617.5 325.5 618.3 326.2 619.5 326.2 C620.7 326.2 622.9 325.7 623.6 325.6" stroke="#111" stroke-width="1.45"/>
    </g>
    <path d="M475 239.8 H495.6" stroke="#e0262a" stroke-width="1.2" fill="none"/>
    <path d="M475 253.3 H495.6" stroke="#111" stroke-width="1.2" fill="none"/>
    <text x="503" y="244.3" style="font-size:13.4px">Center</text>
    <text x="503" y="258" style="font-size:13.4px">Edge</text>
    <text x="575.5" y="251.5" style="font-size:16px">0.5 T</text>
    <rect x="458.4" y="227.4" width="165.6" height="157.9" fill="none" stroke="#111" stroke-width="1.1"/>
    <path d="M458.4 240.5 h4 M458.4 269 h4 M458.4 297.5 h4 M458.4 326 h4 M458.4 354.3 h4 M458.4 383 h4 M499.6 385.3 v-4 M540.6 385.3 v-4 M581.8 385.3 v-4" stroke="#111" stroke-width="1" fill="none"/>
  </g>
</svg>
</body>
</html>
